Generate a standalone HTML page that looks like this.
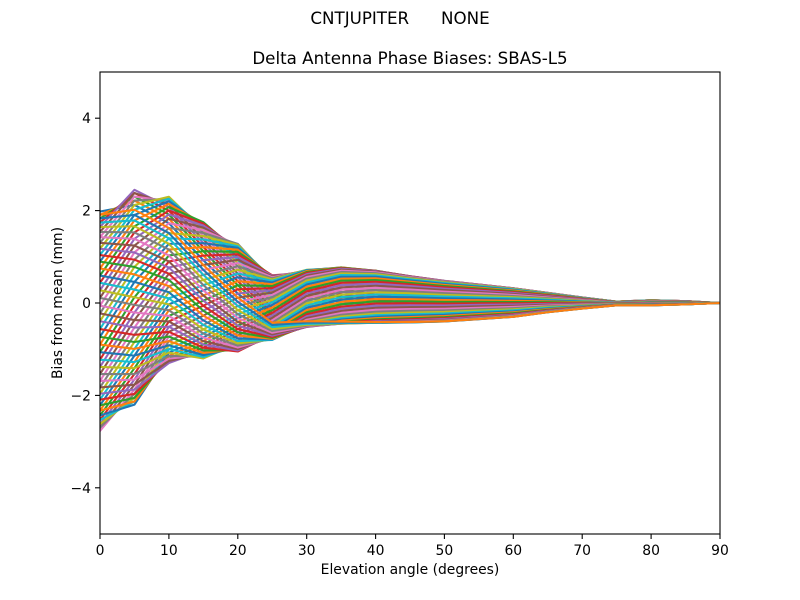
<!DOCTYPE html>
<html><head><meta charset="utf-8"><style>
html,body{margin:0;padding:0;background:#fff;}
svg{display:block;}
text{font-family:"DejaVu Sans","Liberation Sans",sans-serif;fill:#000;}
</style></head><body>
<svg id="s" width="800" height="600" viewBox="0 0 800 600" xmlns="http://www.w3.org/2000/svg">
<rect x="0" y="0" width="800" height="600" fill="#fff"/>
<defs><clipPath id="cp"><rect x="100" y="72" width="620" height="462"/></clipPath></defs>
<g id="lines" clip-path="url(#cp)" fill="none" stroke-width="2.08" stroke-linejoin="round" stroke-linecap="square"></g>
<rect x="100" y="72" width="620" height="462" fill="none" stroke="#000" stroke-width="1.1"/>
<g stroke="#000" stroke-width="1.1">
<line x1="100" y1="534" x2="100" y2="539"/>
<line x1="168.9" y1="534" x2="168.9" y2="539"/>
<line x1="237.8" y1="534" x2="237.8" y2="539"/>
<line x1="306.7" y1="534" x2="306.7" y2="539"/>
<line x1="375.6" y1="534" x2="375.6" y2="539"/>
<line x1="444.4" y1="534" x2="444.4" y2="539"/>
<line x1="513.3" y1="534" x2="513.3" y2="539"/>
<line x1="582.2" y1="534" x2="582.2" y2="539"/>
<line x1="651.1" y1="534" x2="651.1" y2="539"/>
<line x1="720" y1="534" x2="720" y2="539"/>
<line x1="95" y1="487.8" x2="100" y2="487.8"/>
<line x1="95" y1="395.4" x2="100" y2="395.4"/>
<line x1="95" y1="303" x2="100" y2="303"/>
<line x1="95" y1="210.6" x2="100" y2="210.6"/>
<line x1="95" y1="118.2" x2="100" y2="118.2"/>
</g>
<g font-size="13.9" text-anchor="middle">
<text x="100" y="555">0</text>
<text x="168.9" y="555">10</text>
<text x="237.8" y="555">20</text>
<text x="306.7" y="555">30</text>
<text x="375.6" y="555">40</text>
<text x="444.4" y="555">50</text>
<text x="513.3" y="555">60</text>
<text x="582.2" y="555">70</text>
<text x="651.1" y="555">80</text>
<text x="720" y="555">90</text>
</g>
<g font-size="13.9" text-anchor="end">
<text x="91" y="492.8">−4</text>
<text x="91" y="400.4">−2</text>
<text x="91" y="308">0</text>
<text x="91" y="215.6">2</text>
<text x="91" y="123.2">4</text>
</g>
<text x="410" y="574" font-size="13.9" text-anchor="middle">Elevation angle (degrees)</text>
<text transform="translate(62,303) rotate(-90)" font-size="13.9" text-anchor="middle">Bias from mean (mm)</text>
<text x="400" y="24" font-size="16.7" text-anchor="middle" xml:space="preserve" style="white-space:pre">CNTJUPITER      NONE</text>
<text x="410" y="64" font-size="16.7" text-anchor="middle">Delta Antenna Phase Biases: SBAS-L5</text>
</svg>
<script>
(function(){
var E=[0,5,10,15,20,25,30,35,40,45,50,55,60,65,70,75,80,85,90];
var m=[-0.395,0.125,0.5,0.275,0.115,-0.1,0.1,0.16,0.135,0.08,0.04,0.025,0.01,0.01,0,-0.01,0.005,0.005,0];
var A=[2.375,2.325,1.8,1.475,1.165,0.7,0.62,0.61,0.565,0.5,0.44,0.375,0.31,0.21,0.12,0.04,0.055,0.035,0];
var P=[0,20,40,60,85,115,140,152,160,165,168,170,172,172,172,172,172,172,172];
var W=[0.5,0.5,0.6,0.65,0.7,0.8,0.9,1,1,1,1,1,1,1,1,1,1,1,1];
var cols=["#1f77b4","#ff7f0e","#2ca02c","#d62728","#9467bd","#8c564b","#e377c2","#7f7f7f","#bcbd22","#17becf"];
var g=document.getElementById("lines");
var ns="http://www.w3.org/2000/svg";
var N=72;
for(var i=0;i<N;i++){
  var a=i*360/N;
  var pts=[];
  for(var k=0;k<E.length;k++){
    var th=(a-P[k])*Math.PI/180;
    var c=Math.cos(th);
    var u=((th/Math.PI)%2+2)%2;
    var tri=1-2*Math.min(u,2-u);
    var sh=W[k]*c+(1-W[k])*tri;
    var v=m[k]+A[k]*sh;
    var x=100+E[k]*620/90;
    var y=303-v*46.2;
    pts.push(x.toFixed(2)+","+y.toFixed(2));
  }
  var pl=document.createElementNS(ns,"polyline");
  pl.setAttribute("points",pts.join(" "));
  pl.setAttribute("stroke",cols[i%10]);
  g.appendChild(pl);
}
})();
</script>
</body></html>
